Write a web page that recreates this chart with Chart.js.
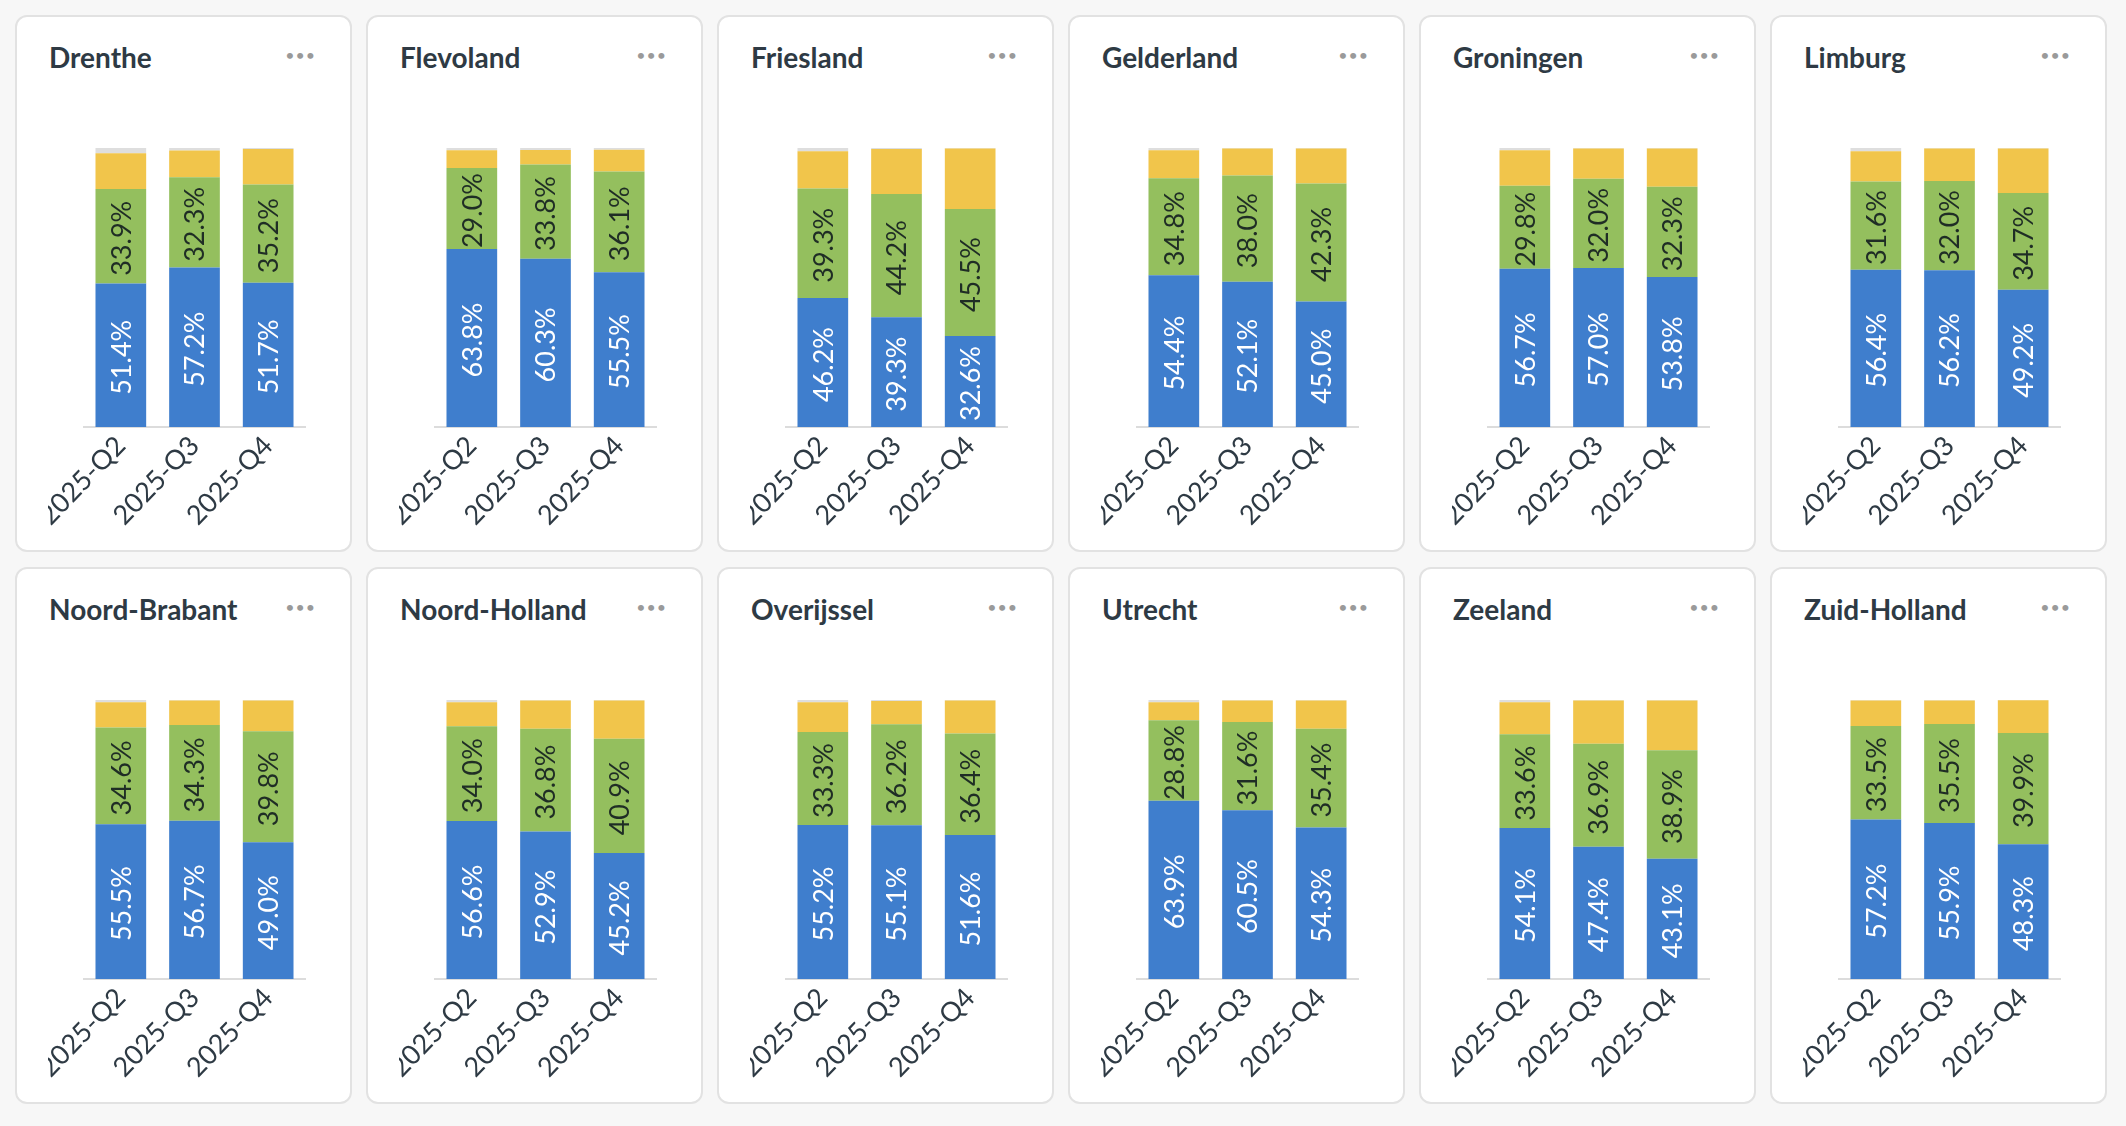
<!DOCTYPE html>
<html>
<head>
<meta charset="utf-8">
<script src="https://cdn.jsdelivr.net/npm/chart.js@4.4.1/dist/chart.umd.min.js"></script>
<style>
  html, body { margin: 0; padding: 0; background: #f7f7f7; }
  body { width: 2126px; height: 1126px; overflow: hidden; font-family: Lato, "Open Sans", sans-serif; }
  #grid {
    display: grid;
    grid-template-columns: repeat(6, 337px);
    grid-template-rows: repeat(2, 537px);
    column-gap: 14px;
    row-gap: 15px;
    padding: 15px;
  }
  .panel {
    position: relative;
    background: #fff;
    border: 2px solid #e2e2e2;
    border-radius: 12px;
    box-sizing: border-box;
    overflow: hidden;
  }
  .panel h2 {
    position: absolute; left: 32px; top: 23px; margin: 0;
    font: 700 28px/34px Lato, sans-serif; color: #2e3a44;
  }
  .panel .dots {
    position: absolute; right: 34px; top: 21px;
    font: 400 16px/34px Lato, sans-serif; color: #9a9a9a; letter-spacing: 1px;
  }
  .panel .box { position: absolute; left: 31px; top: 78px; width: 271px; height: 447px; }
</style>
</head>
<body>
<div id="grid"></div>
<script>
// --- data (percent share per quarter) ---
const provinces = ["Drenthe", "Flevoland", "Friesland", "Gelderland", "Groningen", "Limburg",
  "Noord-Brabant", "Noord-Holland", "Overijssel", "Utrecht", "Zeeland", "Zuid-Holland"];
const quarters = ["2025-Q2", "2025-Q3", "2025-Q4"];

const blueValues = [
  [51.4, 57.2, 51.7], [63.8, 60.3, 55.5], [46.2, 39.3, 32.6], [54.4, 52.1, 45.0],
  [56.7, 57.0, 53.8], [56.4, 56.2, 49.2], [55.5, 56.7, 49.0], [56.6, 52.9, 45.2],
  [55.2, 55.1, 51.6], [63.9, 60.5, 54.3], [54.1, 47.4, 43.1], [57.2, 55.9, 48.3]
];
const greenValues = [
  [33.9, 32.3, 35.2], [29.0, 33.8, 36.1], [39.3, 44.2, 45.5], [34.8, 38.0, 42.3],
  [29.8, 32.0, 32.3], [31.6, 32.0, 34.7], [34.6, 34.3, 39.8], [34.0, 36.8, 40.9],
  [33.3, 36.2, 36.4], [28.8, 31.6, 35.4], [33.6, 36.9, 38.9], [33.5, 35.5, 39.9]
];
const yellowValues = [
  [12.8, 9.6, 12.7], [6.4, 5.2, 7.8], [13.3, 16.1, 21.7], [10.0, 9.7, 12.5],
  [12.7, 10.8, 13.7], [10.8, 11.6, 15.9], [9.1, 8.8, 11.0], [8.6, 10.1, 13.7],
  [10.7, 8.3, 11.8], [6.5, 7.7, 10.1], [11.5, 15.5, 17.8], [9.1, 8.4, 11.7]
];
const greyValues = [
  [1.9, 0.9, 0.4], [0.8, 0.7, 0.6], [1.2, 0.4, 0.2], [0.8, 0.2, 0.2],
  [0.8, 0.2, 0.2], [1.2, 0.2, 0.2], [0.8, 0.2, 0.2], [0.8, 0.2, 0.2],
  [0.8, 0.4, 0.2], [0.8, 0.2, 0.2], [0.8, 0.2, 0.2], [0.2, 0.2, 0.1]
];

const colors = ["#3f7ecd", "#94bf5e", "#f1c54b", "#dedede"];
const labelColors = ["#ffffff", "#1f2d25"];

// draws the rotated % labels inside the blue and green segments
const segmentLabels = {
  id: "segmentLabels",
  afterDatasetsDraw(chart) {
    const ctx = chart.ctx;
    [0, 1].forEach(di => {
      const meta = chart.getDatasetMeta(di);
      const data = chart.data.datasets[di].data;
      meta.data.forEach((bar, i) => {
        const p = bar.getProps(["x", "y", "base"], true);
        ctx.save();
        ctx.translate(p.x, (p.y + p.base) / 2);
        ctx.rotate(-Math.PI / 2);
        ctx.font = "400 27px Lato";
        ctx.fillStyle = labelColors[di];
        ctx.textAlign = "center";
        ctx.textBaseline = "middle";
        ctx.fillText(data[i].toFixed(1) + "%", -2, 1);
        ctx.restore();
      });
    });
  }
};

function renderPanel(idx) {
  const panel = document.createElement("div");
  panel.className = "panel";
  panel.innerHTML = `
    <h2>${provinces[idx]}</h2>
    <div class="dots">•••</div>
    <div class="box"><canvas></canvas></div>
  `;
  document.getElementById("grid").appendChild(panel);

  const series = [blueValues, greenValues, yellowValues, greyValues];
  new Chart(panel.querySelector("canvas"), {
    type: "bar",
    data: {
      labels: quarters,
      datasets: series.map((s, k) => ({
        data: s[idx],
        backgroundColor: colors[k],
        borderWidth: 0,
        categoryPercentage: 0.8,
        barPercentage: 0.86
      }))
    },
    options: {
      responsive: true,
      maintainAspectRatio: false,
      animation: false,
      layout: { padding: { top: 53, left: 36, right: 14, bottom: 0 } },
      plugins: { legend: { display: false }, tooltip: { enabled: false } },
      scales: {
        x: {
          stacked: true,
          grid: { display: false },
          border: { display: true, color: "#dcdcdc", width: 2 },
          ticks: {
            autoSkip: false, minRotation: 46, maxRotation: 46, padding: -5,
            color: "#2e3a44", font: { family: "Lato", size: 27 }
          },
          afterFit(scale) { scale.paddingLeft = 0; scale.paddingRight = 0; scale.height = 115; }
        },
        y: { stacked: true, display: false, min: 0, max: 100 }
      }
    },
    plugins: [segmentLabels]
  });
}

provinces.forEach((p, i) => renderPanel(i));
</script>
</body>
</html>
